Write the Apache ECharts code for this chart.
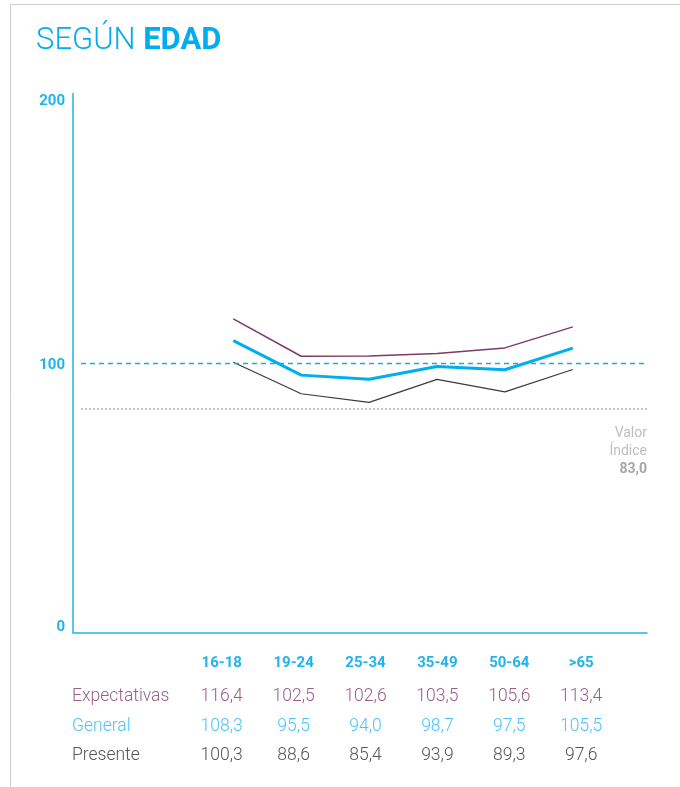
<!DOCTYPE html>
<html>
<head>
<meta charset="utf-8">
<style>
  html, body { margin: 0; padding: 0; background: #fff; }
  #chart { width: 680px; height: 787px; }
</style>
<script src="https://cdn.jsdelivr.net/npm/echarts@6/dist/echarts.min.js"></script>
</head>
<body>
<div id="chart"></div>
<script>
// Age groups and index values per series
const ageGroups = ['16-18', '19-24', '25-34', '35-49', '50-64', '>65'];
const expectativas = [116.4, 102.5, 102.6, 103.5, 105.6, 113.4];
const general = [108.3, 95.5, 94.0, 98.7, 97.5, 105.5];
const presente = [100.3, 88.6, 85.4, 93.9, 89.3, 97.6];
const yTicks = [0, 100, 200];
const baseLevel = 100;
const valorIndice = 83.0;

const BLUE = '#1fb4ec';
const FONT = 'Roboto, "Noto Sans", sans-serif';

const fmt = v => v.toFixed(1).replace('.', ',');
const pairs = arr => arr.map((v, i) => [i, v]);

// x range of the plot in category-index units
const X_MIN = -2.361;
const X_MAX = 6.093;
const REF_START = X_MIN + 8 / 67.9;

const chart = echarts.init(document.getElementById('chart'), null, { renderer: 'canvas' });

function tableAxis(data, margin, color, weight, size) {
  return {
    type: 'category', gridIndex: 1, position: 'bottom', data: data,
    axisLine: { show: false }, axisTick: { show: false }, splitLine: { show: false },
    axisLabel: {
      interval: 0, margin: margin, verticalAlign: 'middle',
      color: color, fontFamily: FONT, fontWeight: weight, fontSize: size
    }
  };
}

const yLabelStyle = { color: BLUE, fontFamily: FONT, fontWeight: 'bold', fontSize: 15 };

chart.setOption({
  animation: false,
  backgroundColor: '#fff',
  grid: [
    { left: 73, right: 33, top: 93.5, bottom: 154.5 },
    { left: 185.75, right: 62.85, top: 640, height: 1, show: false }
  ],
  xAxis: [
    {
      type: 'value', gridIndex: 0, min: X_MIN, max: X_MAX,
      axisLine: { show: true, onZero: false, lineStyle: { color: BLUE, width: 1.5 } },
      axisTick: { show: false }, axisLabel: { show: false }, splitLine: { show: false }
    },
    tableAxis(ageGroups, 22.5, BLUE, 'bold', 15),
    tableAxis(expectativas.map(fmt), 56, '#9a5f84', 300, 17.5),
    tableAxis(general.map(fmt), 86, '#4cc3f4', 300, 17.5),
    tableAxis(presente.map(fmt), 115, '#555555', 300, 17.5)
  ],
  yAxis: [
    {
      type: 'value', gridIndex: 0, min: yTicks[0], max: yTicks[yTicks.length - 1], interval: 100,
      axisLine: { show: true, onZero: false, lineStyle: { color: BLUE, width: 1.5 } },
      axisTick: { show: false }, splitLine: { show: false },
      axisLabel: {
        margin: 8,
        formatter: v => v === yTicks[0] ? '{lo|' + v + '}' : (v === yTicks[yTicks.length - 1] ? '{hi|' + v + '}' : '{mid|' + v + '}'),
        rich: {
          lo: Object.assign({ padding: [0, 0, 10, 0] }, yLabelStyle),
          mid: Object.assign({ padding: [4, 0, 0, 0] }, yLabelStyle),
          hi: Object.assign({ padding: [16, 0, 0, 0] }, yLabelStyle)
        }
      }
    },
    { type: 'value', gridIndex: 1, show: false }
  ],
  series: [
    {
      name: 'Expectativas', type: 'line', xAxisIndex: 0, yAxisIndex: 0,
      data: pairs(expectativas), symbol: 'none',
      lineStyle: { color: '#7d3b67', width: 1.5 }, z: 3
    },
    {
      name: 'General', type: 'line', xAxisIndex: 0, yAxisIndex: 0,
      data: pairs(general), symbol: 'none',
      lineStyle: { color: '#00aeef', width: 3 }, z: 4,
      markLine: {
        silent: true, symbol: 'none', label: { show: false },
        data: [
          [{ coord: [REF_START, baseLevel], lineStyle: { color: '#1ea7e4', type: [5, 4], width: 1.3 } },
           { coord: [X_MAX, baseLevel] }]
        ],
        lineStyle: { color: '#1ea7e4', type: [5, 4], width: 1.3 }
      }
    },
    {
      name: 'Presente', type: 'line', xAxisIndex: 0, yAxisIndex: 0,
      data: pairs(presente), symbol: 'none',
      lineStyle: { color: '#3a3a3a', width: 1.2 }, z: 3,
      markLine: {
        silent: true, symbol: 'none', label: { show: false },
        data: [
          [{ coord: [REF_START, valorIndice], lineStyle: { color: '#b0b0b0', type: [2, 2], width: 1.5 } },
           { coord: [X_MAX, valorIndice] }]
        ],
        lineStyle: { color: '#b0b0b0', type: [2, 2], width: 1.5 }
      }
    }
  ],
  graphic: [
    {
      type: 'polyline', silent: true,
      shape: { points: [[10.5, 787], [10.5, 4.5], [680, 4.5]] },
      style: { stroke: '#cfcfcf', lineWidth: 1, fill: null }
    },
    {
      type: 'text', left: 36, top: 26,
      style: {
        text: '{l|SEGÚN }{b|EDAD}',
        rich: {
          l: { fontFamily: FONT, fontWeight: 300, fontSize: 31, fill: '#00aeef' },
          b: { fontFamily: FONT, fontWeight: 'bold', fontSize: 31, fill: '#00aeef' }
        }
      }
    },
    {
      type: 'text', x: 647, y: 424.5,
      style: {
        text: '{a|Valor}\n{a|Índice}\n{b|' + fmt(valorIndice) + '}',
        align: 'right',
        rich: {
          a: { fontFamily: FONT, fontSize: 14, fill: '#bdbdbd', lineHeight: 18, align: 'right' },
          b: { fontFamily: FONT, fontSize: 14, fontWeight: 'bold', fill: '#a6a6a6', lineHeight: 18, align: 'right' }
        }
      }
    },
    {
      type: 'text', x: 72, y: 697,
      style: { text: 'Expectativas', fontFamily: FONT, fontWeight: 300, fontSize: 17.5, fill: '#9a5f84', verticalAlign: 'middle' }
    },
    {
      type: 'text', x: 72, y: 727,
      style: { text: 'General', fontFamily: FONT, fontWeight: 300, fontSize: 17.5, fill: '#4cc3f4', verticalAlign: 'middle' }
    },
    {
      type: 'text', x: 72, y: 756,
      style: { text: 'Presente', fontFamily: FONT, fontWeight: 300, fontSize: 17.5, fill: '#555555', verticalAlign: 'middle' }
    }
  ]
});
</script>
</body>
</html>
